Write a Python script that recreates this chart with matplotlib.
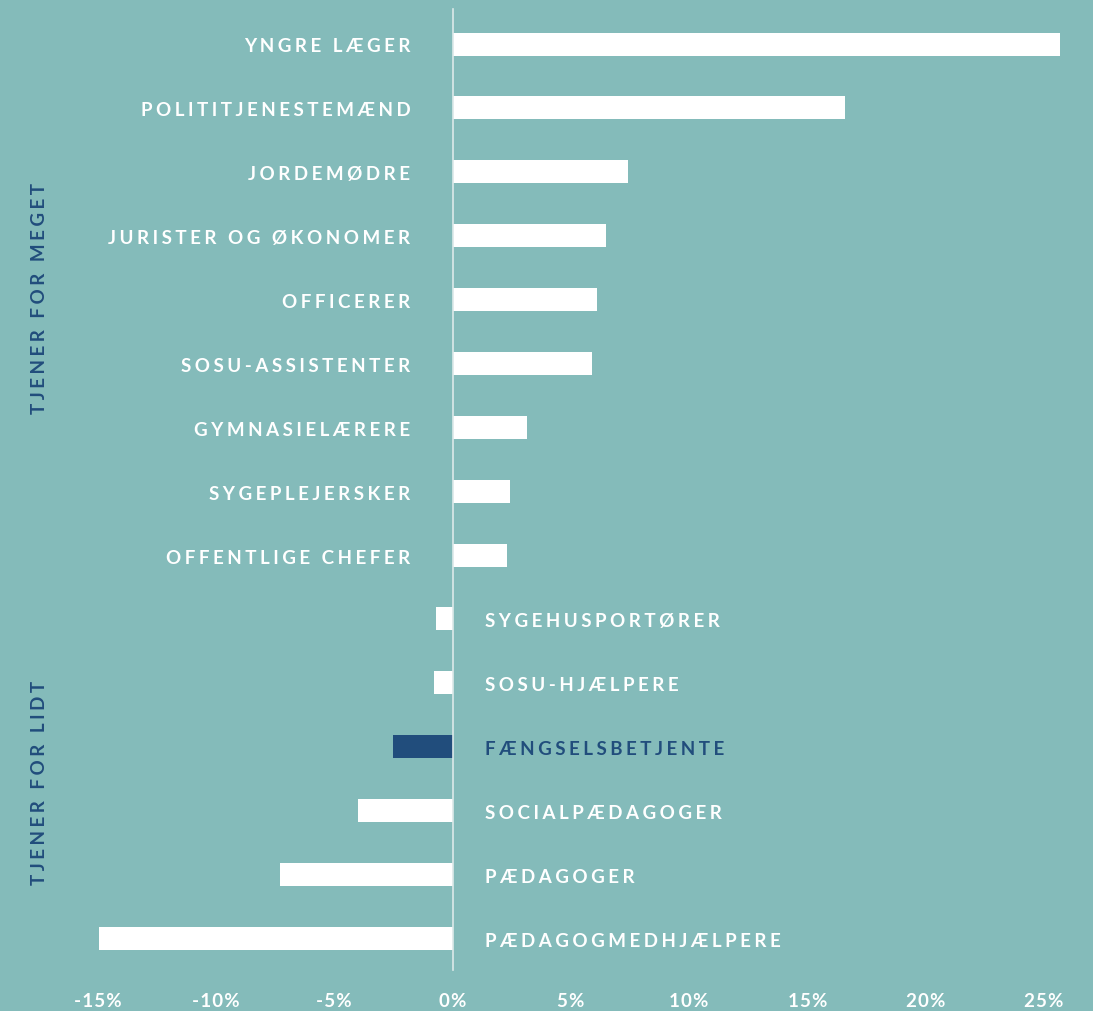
import numpy as np
import matplotlib
matplotlib.use("Agg")
from matplotlib import pyplot as plt

# data (top to bottom)
categories = [
    "YNGRE LÆGER", "POLITITJENESTEMÆND", "JORDEMØDRE", "JURISTER OG ØKONOMER",
    "OFFICERER", "SOSU-ASSISTENTER", "GYMNASIELÆRERE", "SYGEPLEJERSKER",
    "OFFENTLIGE CHEFER", "SYGEHUSPORTØRER", "SOSU-HJÆLPERE", "FÆNGSELSBETJENTE",
    "SOCIALPÆDAGOGER", "PÆDAGOGER", "PÆDAGOGMEDHJÆLPERE",
]
values = [25.7, 16.6, 7.4, 6.5, 6.1, 5.9, 3.15, 2.45, 2.3,
          -0.7, -0.8, -2.5, -4.0, -7.3, -14.95]
highlight = "FÆNGSELSBETJENTE"
tick_values = [-15, -10, -5, 0, 5, 10, 15, 20, 25]
group_labels = ["TJENER FOR MEGET", "TJENER FOR LIDT"]

bg = "#84bbba"
dark = "#214d7c"
fonts = ["Lato", "DejaVu Sans"]


def spaced(s, gap="\u2009\u200a"):
    # fake letter tracking with thin + hair spaces
    return gap.join(s)


fig = plt.figure(figsize=(10.93, 10.12), dpi=100, facecolor=bg)
ax = fig.add_axes([0, 0.037, 1, 0.963])
ax.set_facecolor(bg)

y = np.arange(len(categories))
colors = [dark if c == highlight else "white" for c in categories]
ax.barh(y, values, height=0.36, color=colors, zorder=2)

# zero line
ax.plot([0, 0], [-0.55, 14.5], color="#dce9e9", lw=1.2, zorder=3)

for yi, c, v in zip(y, categories, values):
    col = dark if c == highlight else "white"
    if v >= 0:
        ax.text(-1.78, yi + 0.03, spaced(c), ha="right", va="center", color=col,
                fontsize=13.5, fontweight="bold", family=fonts)
    else:
        ax.text(1.38, yi + 0.03, spaced(c), ha="left", va="center", color=col,
                fontsize=13.5, fontweight="bold", family=fonts)

ax.set_xlim(-452.5 / 23.65, (1093 - 452.5) / 23.65)
ax.set_ylim(14.55, -0.705)

ax.set_xticks(tick_values)
ax.set_xticklabels([spaced(f"{t}%", "\u200a") for t in tick_values], color="white",
                   fontsize=13.5, fontweight="bold", family=fonts)
ax.tick_params(axis="x", length=0, pad=13)
ax.set_yticks([])
for s in ax.spines.values():
    s.set_visible(False)

fig.text(40 / 1093, 1 - 298 / 1012, spaced(group_labels[0]), rotation=90,
         ha="center", va="center", color=dark, fontsize=13.5,
         fontweight="bold", family=fonts)
fig.text(40 / 1093, 1 - 783 / 1012, spaced(group_labels[1]), rotation=90,
         ha="center", va="center", color=dark, fontsize=13.5,
         fontweight="bold", family=fonts)

fig.savefig("out.png", dpi=100, facecolor=bg)
